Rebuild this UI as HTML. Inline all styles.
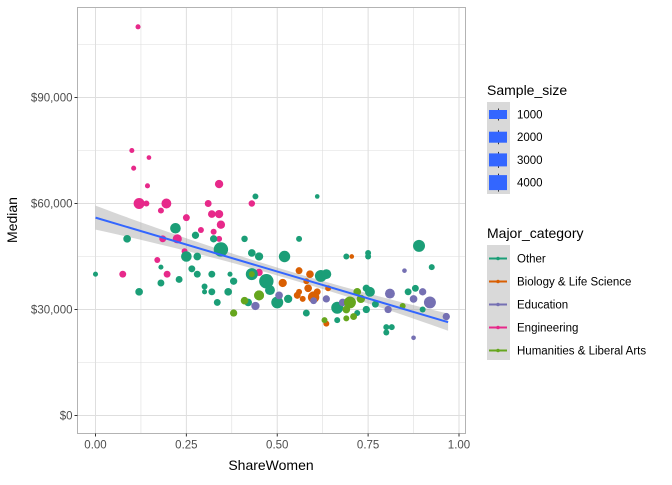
<!DOCTYPE html>
<html><head><meta charset="utf-8"><style>
body{margin:0;background:#fff;font-family:"Liberation Sans",Arial,sans-serif;}
svg text{font-family:"Liberation Sans",Arial,sans-serif;}
</style></head><body>
<svg id="chart" width="672" height="480" xmlns="http://www.w3.org/2000/svg">
<rect x="0" y="0" width="672" height="480" fill="#fff"/>
<g id="grid"></g>
<g id="ribbon"></g>
<g id="points"></g>
<g id="fit"></g>
<rect x="77.5" y="7.5" width="388" height="426" fill="none" stroke="#b3b3b3" stroke-width="1"/>
<g id="axes"></g>
<text x="271" y="470" font-size="14" text-anchor="middle" fill="#000">ShareWomen</text>
<text transform="translate(17,220) rotate(-90)" font-size="14" text-anchor="middle" fill="#000">Median</text>
<g id="legend"></g>
</svg>
<script>
const xTicks=[0,0.25,0.5,0.75,1];
const xTickLabels=["0.00","0.25","0.50","0.75","1.00"];
const yTicks=[0,30000,60000,90000];
const yTickLabels=["$0","$30,000","$60,000","$90,000"];
const categories=["Other","Biology & Life Science","Education","Engineering","Humanities & Liberal Arts"];
const catColors=["#1B9E77","#D95F02","#7570B3","#E7298A","#66A61E"];
const sizeLegend=[1000,2000,3000,4000];
// points: [shareWomen, median, sampleSize, categoryIndex]
const ptShare=[.117,.10,.147,.105,.143,.12,.14,.195,.18,.34,.31,.32,.34,.25,.345,.29,.325,.34,.17,.197,.075,.245,.185,.225,.45,.43,
.087,0,.22,.275,.25,.28,.18,.18,.12,.265,.28,.23,.32,.30,.30,.32,.335,.365,.37,.38,.345,.325,.41,.44,.43,.45,.43,.47,.48,.42,.61,.52,.56,.47,.5,.53,.45,.69,.75,.75,.89,.925,.86,.88,.58,.665,.665,.745,.745,.755,.72,.77,.8,.8,.815,.9,.62,.635,
.705,.56,.59,.515,.58,.585,.61,.6,.57,.555,.635,.64,.56,
.85,.81,.9,.875,.92,.965,.875,.805,.68,.635,.505,.6,.44,
.38,.45,.41,.43,.45,.7,.69,.72,.63,.69,.71,.845,.73];
const ptMedian=[110000,75000,73000,70000,65000,60000,60000,60000,58000,65500,60000,57000,57000,56000,54000,52500,52000,50000,44000,40000,40000,46500,50000,50000,40500,60000,
50000,40000,53000,51000,45000,45000,42000,37500,35000,41500,40000,38500,40000,36500,35000,35000,32000,35000,40000,38000,47000,50000,50000,62000,46000,45000,40000,38000,35500,32000,62000,45000,50000,38000,32000,33000,45000,45000,46000,45000,48000,42000,35000,36000,29000,27000,30500,30000,36000,35000,29000,31500,25000,23500,25000,30000,39500,40000,
45000,41000,40000,37500,38000,36000,35000,33500,33000,34000,26000,36000,35000,
41000,34500,35000,33000,32000,28000,22000,30000,32000,33000,34000,32500,31000,
29000,34000,32500,40000,34000,32000,30000,35000,27000,27500,28000,31000,33000];
const ptSize=[150,150,100,150,150,2000,300,1500,300,900,500,700,900,500,900,300,300,300,300,500,500,300,500,1200,600,400,
700,150,1800,600,1800,700,150,500,700,500,500,500,500,300,150,500,500,700,150,600,4000,600,400,300,700,900,2500,4000,1500,700,100,2200,300,1500,2500,900,150,300,300,300,2500,300,500,500,500,300,2500,600,600,1500,300,500,300,300,300,300,2500,1500,
100,500,700,900,300,700,500,2200,300,500,300,300,300,
100,1500,600,700,2500,600,100,600,700,600,700,500,900,
600,1500,700,300,1500,2500,700,700,300,300,500,300,900];
const ptCat=[3,3,3,3,3,3,3,3,3,3,3,3,3,3,3,3,3,3,3,3,3,3,3,3,3,3,
0,0,0,0,0,0,0,0,0,0,0,0,0,0,0,0,0,0,0,0,0,0,0,0,0,0,0,0,0,0,0,0,0,0,0,0,0,0,0,0,0,0,0,0,0,0,0,0,0,0,0,0,0,0,0,0,0,0,
1,1,1,1,1,1,1,1,1,1,1,1,1,
2,2,2,2,2,2,2,2,2,2,2,2,2,
4,4,4,4,4,4,4,4,4,4,4,4,4];
const fitCoef=[56000,-30500];
const fitSE=[1100,7600];
const NS="http://www.w3.org/2000/svg";
const X0=95.5,X1=459,PL=77.5,PR=465.5,PT=7.5,PB=433.5;
function sx(v){return X0+v*(X1-X0);}
function sy(v){return 415.5-v*(318/90000);}
function mk(t,a,p){const e=document.createElementNS(NS,t);for(const k in a)e.setAttribute(k,a[k]);p.appendChild(e);return e;}
const grid=document.getElementById('grid');
for(let v=-0.125;v<=1.13;v+=0.125){const x=sx(v);if(x<PL||x>PR)continue;const l=mk('line',{x1:x,x2:x,y1:PT,y2:PB,stroke:'#dedede','stroke-width':Math.abs(v*4-Math.round(v*4))<1e-6?1:0.6},grid);

}
for(let v=-15000;v<=120000;v+=15000){const y=sy(v);if(y<PT||y>PB)continue;const l=mk('line',{x1:PL,x2:PR,y1:y,y2:y,stroke:'#dedede','stroke-width':v%30000===0?1:0.6},grid);

}
const rib=document.getElementById('ribbon');let up=[],lo=[];
for(let i=0;i<=40;i++){const s=0.97*i/40;const m=fitCoef[0]+fitCoef[1]*s;const h=fitSE[0]+fitSE[1]*(s-0.55)*(s-0.55);up.push(sx(s)+','+sy(m+h));lo.unshift(sx(s)+','+sy(m-h));}
const rp=mk('polygon',{points:up.concat(lo).join(' '),fill:'#999','fill-opacity':0.4},rib);


const pts=document.getElementById('points');
for(let i=0;i<ptShare.length;i++){const r=1.4+5.8*Math.sqrt(ptSize[i]/4000);
const c=mk('circle',{cx:sx(ptShare[i]),cy:sy(ptMedian[i]),r:r,fill:catColors[ptCat[i]]},pts);

}
const fl=mk('line',{x1:sx(0),y1:sy(fitCoef[0]),x2:sx(0.97),y2:sy(fitCoef[0]+fitCoef[1]*0.97),stroke:'#3366FF','stroke-width':2},document.getElementById('fit'));


const ax=document.getElementById('axes');
xTicks.forEach((v,i)=>{const x=sx(v);mk('line',{x1:x,x2:x,y1:PB,y2:PB+3,stroke:'#333'},ax);
const t=mk('text',{x:x,y:PB+15,'font-size':11.5,'text-anchor':'middle',fill:'#4d4d4d'},ax);t.textContent=xTickLabels[i];

});
yTicks.forEach((v,i)=>{const y=sy(v);mk('line',{x1:PL-3,x2:PL,y1:y,y2:y,stroke:'#333'},ax);
const t=mk('text',{x:PL-5,y:y+4,'font-size':11.5,'text-anchor':'end',fill:'#4d4d4d'},ax);t.textContent=yTickLabels[i];

});
const lg=document.getElementById('legend');
const t1=mk('text',{x:487,y:95,'font-size':14,fill:'#000'},lg);t1.textContent='Sample_size';


mk('rect',{x:487,y:102,width:23,height:92,fill:'#d9d9d9'},lg);
sizeLegend.forEach((n,i)=>{const cy=114.5+i*22.7;const h=9+2*i;
mk('line',{x1:498.5,x2:498.5,y1:cy-h/2-1.5,y2:cy+h/2+1.5,stroke:'#333'},lg);
const r=mk('rect',{x:489,y:cy-h/2,width:18,height:h,fill:'#3366FF'},lg);


const t=mk('text',{x:517,y:cy+4,'font-size':11.5,fill:'#000'},lg);t.textContent=n;

});
const t2=mk('text',{x:487,y:238,'font-size':14,fill:'#000'},lg);t2.textContent='Major_category';


mk('rect',{x:487,y:245,width:23,height:115,fill:'#d9d9d9'},lg);
categories.forEach((c,i)=>{const cy=258.5+i*23;
mk('line',{x1:489,x2:507,y1:cy,y2:cy,stroke:catColors[i],'stroke-width':2},lg);
const d=mk('circle',{cx:498,cy:cy,r:1.8,fill:catColors[i]},lg);


const t=mk('text',{x:517,y:cy+4,'font-size':11.5,fill:'#000'},lg);t.textContent=c;

});
</script>
</body></html>
